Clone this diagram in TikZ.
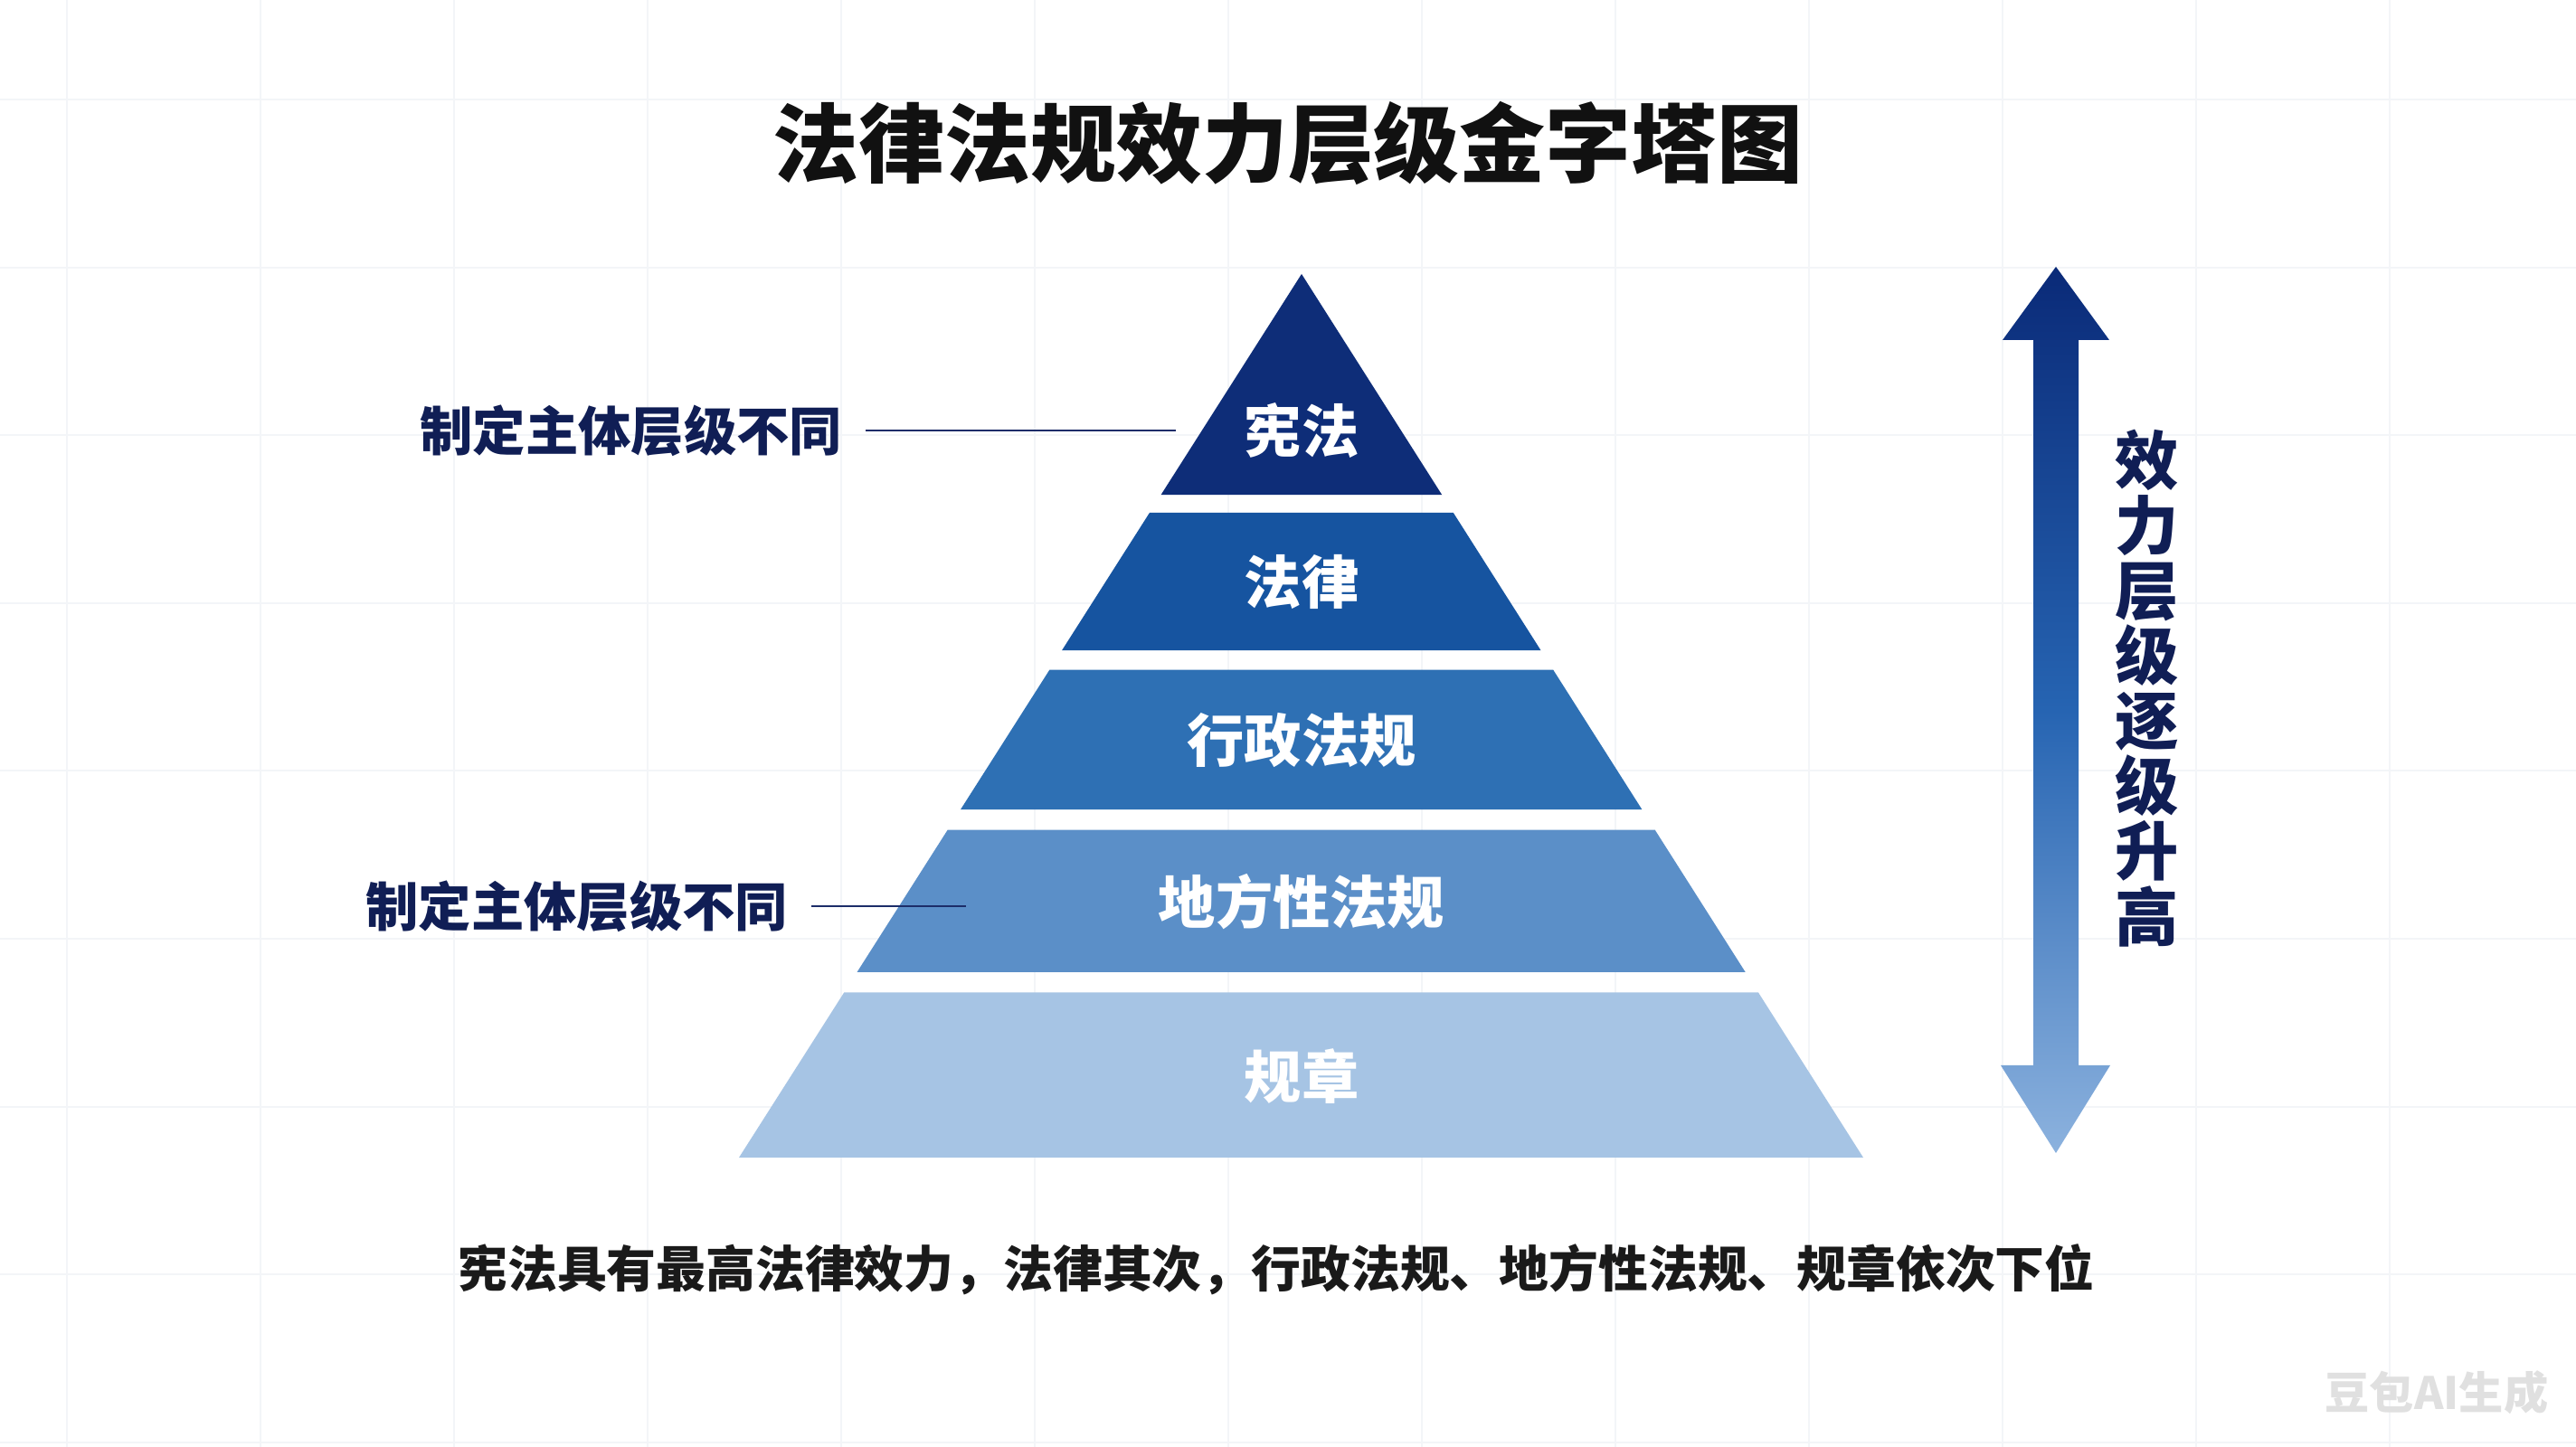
\documentclass[tikz,border=0pt]{standalone}
\usepackage{fontspec}
\setmainfont{Noto Sans CJK SC}
\usepackage{xcolor}
\definecolor{navy-900}{RGB}{14,45,120}
\definecolor{blue-700}{RGB}{22,84,160}
\definecolor{blue-600}{RGB}{46,112,180}
\definecolor{blue-400}{RGB}{91,143,200}
\definecolor{blue-200}{RGB}{166,196,228}
\definecolor{ink-900}{RGB}{16,30,85}
\definecolor{ink-800}{RGB}{28,45,105}
\definecolor{title-900}{RGB}{17,17,17}
\definecolor{text-800}{RGB}{26,26,26}
\definecolor{grid-100}{RGB}{243,245,248}
\definecolor{arrow-top}{RGB}{10,42,120}
\definecolor{arrow-mid}{RGB}{38,100,178}
\definecolor{arrow-bottom}{RGB}{140,178,222}
\usepackage{tikz}
\usetikzlibrary{calc,positioning}

\begin{document}
\begin{tikzpicture}[
    every node/.style={inner sep=0pt},
    tiertext/.style={font=\fontsize{18pt}{20pt}\selectfont\bfseries, text=white},
    sidelabel/.style={font=\fontsize{16.6pt}{18pt}\selectfont\bfseries, text=ink-900, anchor=east},
    leader/.style={draw=ink-800, line width=0.8pt}
]

% Canvas and faint grid
\useasboundingbox (0,0) rectangle (28.48,16);
\fill[white] (0,0) rectangle (28.48,16);
\begin{scope}[shift={(0.74,0.052)}]
    \draw[grid-100, line width=0.6pt, xstep=2.14, ystep=1.856] (-0.74,-0.052) grid (27.74,15.948);
\end{scope}

% Title
\node[font=\fontsize{27pt}{30pt}\selectfont\bfseries, text=title-900] (title) at (14.24,14.42) {法律法规效力层级金字塔图};

% Pyramid outline
\coordinate (apex) at (14.39,12.97);
\coordinate (bl) at (8.17,3.20);
\coordinate (br) at (20.60,3.20);

% Tiers, top to bottom
\fill[navy-900] (apex) -- ($(apex)!0.250!(br)$) -- ($(apex)!0.250!(bl)$) -- cycle;
\fill[blue-700] ($(apex)!0.270!(bl)$) -- ($(apex)!0.270!(br)$)
    -- ($(apex)!0.426!(br)$) -- ($(apex)!0.426!(bl)$) -- cycle;
\fill[blue-600] ($(apex)!0.448!(bl)$) -- ($(apex)!0.448!(br)$)
    -- ($(apex)!0.606!(br)$) -- ($(apex)!0.606!(bl)$) -- cycle;
\fill[blue-400] ($(apex)!0.629!(bl)$) -- ($(apex)!0.629!(br)$)
    -- ($(apex)!0.790!(br)$) -- ($(apex)!0.790!(bl)$) -- cycle;
\fill[blue-200] ($(apex)!0.813!(bl)$) -- ($(apex)!0.813!(br)$)
    -- (br) -- (bl) -- cycle;

% Tier names
\node[tiertext] (constitution) at (14.39,11.24) {宪法};
\node[tiertext] (statute) at (14.39,9.57) {法律};
\node[tiertext] (adminreg) at (14.39,7.81) {行政法规};
\node[tiertext] (localreg) at (14.39,6.03) {地方性法规};
\node[tiertext] (rules) at (14.39,4.10) {规章};

% Side labels with leader lines
\node[sidelabel] (makerupper) at (9.32,11.24) {制定主体层级不同};
\coordinate (makerupperend) at (13.00,11.24);
\draw[leader] ([xshift=0.25cm]makerupper.east) -- (makerupperend);

\node[sidelabel] (makerlower) at (8.72,5.98) {制定主体层级不同};
\coordinate (makerlowerend) at (10.68,5.98);
\draw[leader] ([xshift=0.25cm]makerlower.east) -- (makerlowerend);

% Effect arrow
\shade[top color=arrow-top, bottom color=arrow-bottom, middle color=arrow-mid]
    (22.73,13.05) -- (23.32,12.24) -- (22.98,12.24) -- (22.98,4.22)
    -- (23.33,4.22) -- (22.73,3.25) -- (22.12,4.22) -- (22.48,4.22)
    -- (22.48,12.24) -- (22.14,12.24) -- cycle;
\node[font=\fontsize{20pt}{20.5pt}\selectfont\bfseries, text=ink-900, align=center] (arrowtext) at (23.74,8.39)
    {效\\力\\层\\级\\逐\\级\\升\\高};

% Summary line
\node[font=\fontsize{15.6pt}{18pt}\selectfont\bfseries, text=text-800] (summary) at (14.11,1.96)
    {宪法具有最高法律效力，法律其次，行政法规、地方性法规、规章依次下位};

% Watermark
\node[font=\fontsize{14pt}{16pt}\selectfont\bfseries, text=black!12] (watermark) at (26.94,0.60) {豆包AI生成};

\end{tikzpicture}
\end{document}
